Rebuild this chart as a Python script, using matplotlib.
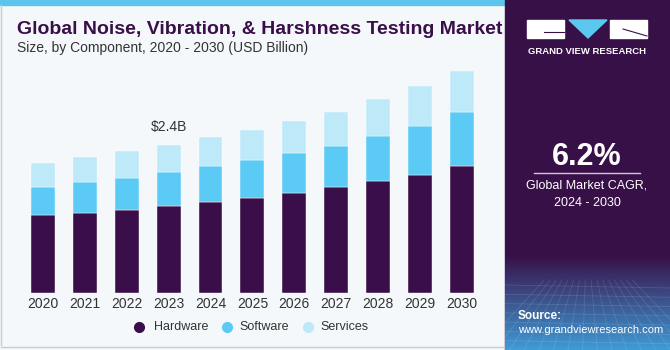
import matplotlib
matplotlib.use("Agg")
import matplotlib.pyplot as plt
import numpy as np
from matplotlib.patches import Rectangle, Polygon

years = ["2020", "2021", "2022", "2023", "2024", "2025", "2026", "2027", "2028", "2029", "2030"]
hardware = [1.26, 1.30, 1.34, 1.42, 1.48, 1.55, 1.62, 1.72, 1.82, 1.91, 2.06]
software = [0.46, 0.50, 0.53, 0.54, 0.58, 0.60, 0.65, 0.67, 0.73, 0.80, 0.87]
services = [0.39, 0.40, 0.44, 0.44, 0.47, 0.49, 0.52, 0.55, 0.59, 0.64, 0.66]
series_names = ["Hardware", "Software", "Services"]
colors = ["#3A0F49", "#5BCBF5", "#BEE9F8"]
annot_year = "2023"
annot_text = "$2.4B"

W, H = 670, 350
fig = plt.figure(figsize=(W / 100, H / 100), dpi=100)
fig.patch.set_facecolor("#F4F8FB")
plt.rcParams['font.family'] = ['Liberation Sans', 'DejaVu Sans']

# background overlay axes
bg = fig.add_axes([0, 0, 1, 1])
bg.axis("off")
# top stripe
bg.add_patch(Rectangle((0, 0), 505, 5, color="#5BC5EE", zorder=1))
# left/bottom border
bg.plot([1, 1], [5, 345], color="#CCCCCC", lw=1)
bg.plot([1, 505], [347, 347], color="#CCCCCC", lw=1)
# right panel
bg.add_patch(Rectangle((505, 0), 165, H, color="#381048", zorder=1))
# gradient bottom
grad = np.linspace(0, 1, 100)[:, None]
c1 = np.array([0x38, 0x10, 0x48]) / 255
c2 = np.array([0x3F, 0x9B, 0xD6]) / 255
img = c1[None, None, :] * (1 - grad[..., None]) + c2[None, None, :] * grad[..., None]
img = np.repeat(img, 2, axis=1)
bg.imshow(img, extent=(505, 670, 350, 255), aspect="auto", zorder=2)
# faint grid pattern
for yy in np.linspace(285, 350, 8):
    bg.plot([505, 670], [yy, yy + 3], color="white", alpha=0.12, lw=0.6, zorder=3)
for xx in np.linspace(480, 700, 16):
    bg.plot([587 + (xx - 587) * 0.4, xx], [280, 350], color="white", alpha=0.12, lw=0.6, zorder=3)
bg.set_xlim(0, W)
bg.set_ylim(H, 0)

# logo
bg.add_patch(Rectangle((527, 20), 37, 18, color="white", zorder=4))
bg.add_patch(Rectangle((610, 20), 37, 18, color="white", zorder=4))
bg.add_patch(Polygon([(569, 20), (607, 20), (588, 38)], closed=True, color="#5BC8F0", zorder=4))
bg.plot([544, 564], [32, 32], color="#381048", lw=0.8, zorder=5)
bg.plot([623, 647], [29, 36], color="#381048", lw=0.8, zorder=5)
bg.text(587, 51, "GRAND VIEW RESEARCH", color="white", fontsize=6.8, fontweight="bold",
        ha="center", va="center", zorder=5)

# CAGR
bg.text(587, 157, "6.2%", color="white", fontsize=22, fontweight="bold", ha="center", va="center", zorder=5)
bg.plot([534, 640], [173, 173], color="#D0C8D8", lw=1, zorder=5)
bg.text(587, 186, "Global Market CAGR,", color="white", fontsize=9, ha="center", va="center", zorder=5)
bg.text(587, 203, "2024 - 2030", color="white", fontsize=9, ha="center", va="center", zorder=5)

# source
bg.text(518, 316, "Source:", color="white", fontsize=8.5, fontweight="bold", ha="left", va="center", zorder=5)
bg.text(518, 330, "www.grandviewresearch.com", color="white", fontsize=8, ha="left", va="center", zorder=5)

# titles
bg.text(17, 29, "Global Noise, Vibration, & Harshness Testing Market", color="#3A0F49",
        fontsize=14, fontweight="bold", ha="left", va="center", zorder=5)
bg.text(17, 48, "Size, by Component, 2020 - 2030 (USD Billion)", color="#333333",
        fontsize=10, ha="left", va="center", zorder=5)

# main chart
ax = fig.add_axes([17.7 / W, (H - 293.3) / H, 469.4 / W, 233.3 / H])
ax.set_facecolor("none")
x = np.arange(len(years))
bottom = np.zeros(len(years))
for name, vals, col in zip(series_names, [hardware, software, services], colors):
    ax.bar(x, vals, 0.57, bottom=bottom, color=col, edgecolor="white", linewidth=0.3, label=name)
    bottom += np.array(vals)
ax.set_xlim(-0.6, len(years) - 0.4)
ax.set_ylim(0, 3.775)
for s in ax.spines.values():
    s.set_visible(False)
ax.set_yticks([])
ax.set_xticks(x)
ax.set_xticklabels(years, fontsize=10, color="#333333")
ax.tick_params(axis="x", length=0, pad=3)
i = years.index(annot_year)
ax.text(x[i], bottom[i] + 0.17, annot_text, ha="center", va="bottom", fontsize=10, color="#333333")

# legend
for mx, tx, name, col in zip([139, 227, 308], [154, 239, 320], series_names, colors):
    bg.plot([mx], [327], "o", color=col, markersize=7, zorder=6)
    bg.text(tx, 327, name, fontsize=9, color="#333333", ha="left", va="center", zorder=6)

fig.savefig("out.png", dpi=100, facecolor=fig.get_facecolor())
